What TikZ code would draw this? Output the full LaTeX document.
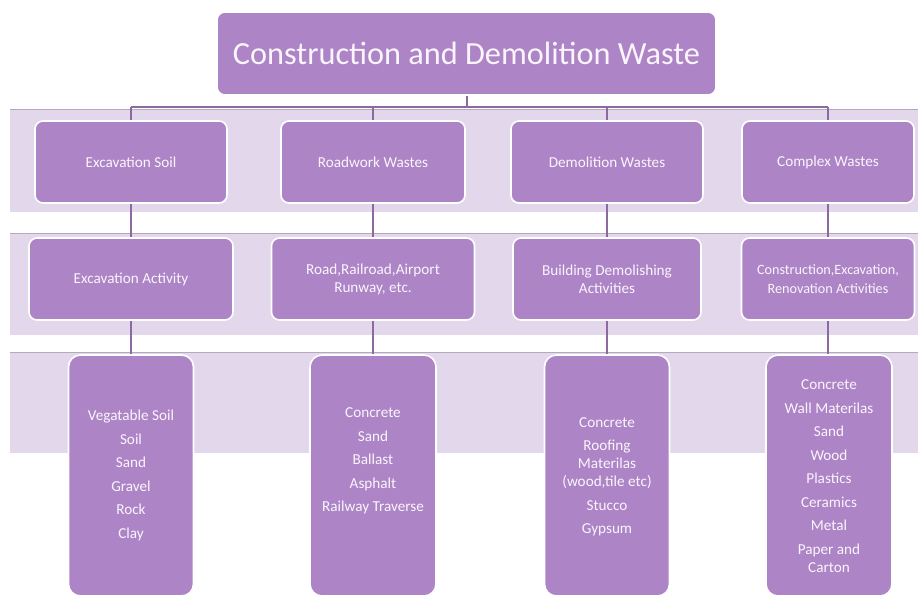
\documentclass[tikz,border=0pt]{standalone}
\usepackage{fontspec}
\setmainfont{Carlito}
\usetikzlibrary{backgrounds}
\definecolor{boxfill}{RGB}{173,132,198}
\definecolor{bandfill}{RGB}{227,216,235}
\definecolor{bandline}{RGB}{180,170,190}
\definecolor{conn}{RGB}{140,106,159}
\definecolor{txt}{RGB}{250,245,252}
\begin{document}
\begin{tikzpicture}[x=1pt,y=-1pt,
  pbox/.style={draw=white,line width=1.6pt,fill=boxfill,rounded corners=8pt,inner sep=0pt},
  tallbox/.style={pbox,rounded corners=12pt},
  lab/.style={text=txt,align=center,font=\fontsize{15.2}{18}\selectfont},
  band/.style={fill=bandfill},
  link/.style={draw=conn,line width=2pt}]
\useasboundingbox (0,0) rectangle (918,596);
\begin{scope}
\clip (0,0) rectangle (918,596);
% title
\node[pbox,minimum width=499pt,minimum height=83pt,text=txt,font=\fontsize{32.3}{38}\selectfont] (top) at (466.5,53.5) {Construction and Demolition Waste};
% level 1
\node[pbox,minimum width=192pt,minimum height=82pt,lab] (a1) at (131,162) {Excavation Soil};
\node[pbox,minimum width=184pt,minimum height=82pt,lab] (b1) at (373,162) {Roadwork Wastes};
\node[pbox,minimum width=192pt,minimum height=82pt,lab] (c1) at (607,162) {Demolition Wastes};
\node[pbox,minimum width=172pt,minimum height=82pt,lab] (d1) at (828,162) {Complex Wastes};
% level 2
\node[pbox,minimum width=204pt,minimum height=82pt,lab] (a2) at (131,279) {Excavation Activity};
\node[pbox,minimum width=203pt,minimum height=82pt,lab] (b2) at (373,279) {Road,Railroad,Airport\\Runway, etc.};
\node[pbox,minimum width=188pt,minimum height=82pt,lab] (c2) at (607,279) {Building Demolishing\\Activities};
\node[pbox,minimum width=173pt,minimum height=82pt,lab,font=\fontsize{14.2}{19}\selectfont] (d2) at (828,279) {Construction,Excavation,\\Renovation Activities};
% level 3
\node[tallbox,minimum width=125pt,minimum height=241pt] (a3) at (131,475.5) {};
\node[tallbox,minimum width=126pt,minimum height=241pt] (b3) at (373,475.5) {};
\node[tallbox,minimum width=125pt,minimum height=241pt] (c3) at (607,475.5) {};
\node[tallbox,minimum width=126pt,minimum height=241pt] (d3) at (829,475.5) {};
\node[lab] (a3t) at (131,475.5) {Vegatable Soil\\[5.5pt]Soil\\[5.5pt]Sand\\[5.5pt]Gravel\\[5.5pt]Rock\\[5.5pt]Clay};
\node[lab] (b3t) at (373,461) {Concrete\\[5.5pt]Sand\\[5.5pt]Ballast\\[5.5pt]Asphalt\\[5.5pt]Railway Traverse};
\node[lab] (c3t) at (607,477) {Concrete\\[5.5pt]Roofing\\Materilas\\(wood,tile etc)\\[5.5pt]Stucco\\[5.5pt]Gypsum};
\node[lab] (d3t) at (829,476) {Concrete\\[5.5pt]Wall Materilas\\[5.5pt]Sand\\[5.5pt]Wood\\[5.5pt]Plastics\\[5.5pt]Ceramics\\[5.5pt]Metal\\[5.5pt]Paper and\\Carton};
\coordinate (bus) at (0,107);
\begin{scope}[on background layer]
\fill[band] (10,110) rectangle (918,212);
\fill[band] (10,233) rectangle (918,335);
\fill[band] (10,352) rectangle (918,453);
\draw[bandline,line width=1pt] (10,110) -- (918,110);
\draw[bandline,line width=1pt] (10,233) -- (918,233);
\draw[bandline,line width=1pt] (10,352) -- (918,352);
\draw[link] (top.south) -- (top.south |- bus);
\draw[link] (a1.north |- bus) -- (d1.north |- bus);
\foreach \n in {a,b,c,d}{
  \draw[link] (\n1.north |- bus) -- (\n1.north);
  \draw[link] (\n1.south) -- (\n2.north);
  \draw[link] (\n2.south) -- (\n2.south |- \n3.north);
}
\end{scope}
\end{scope}
\end{tikzpicture}
\end{document}
